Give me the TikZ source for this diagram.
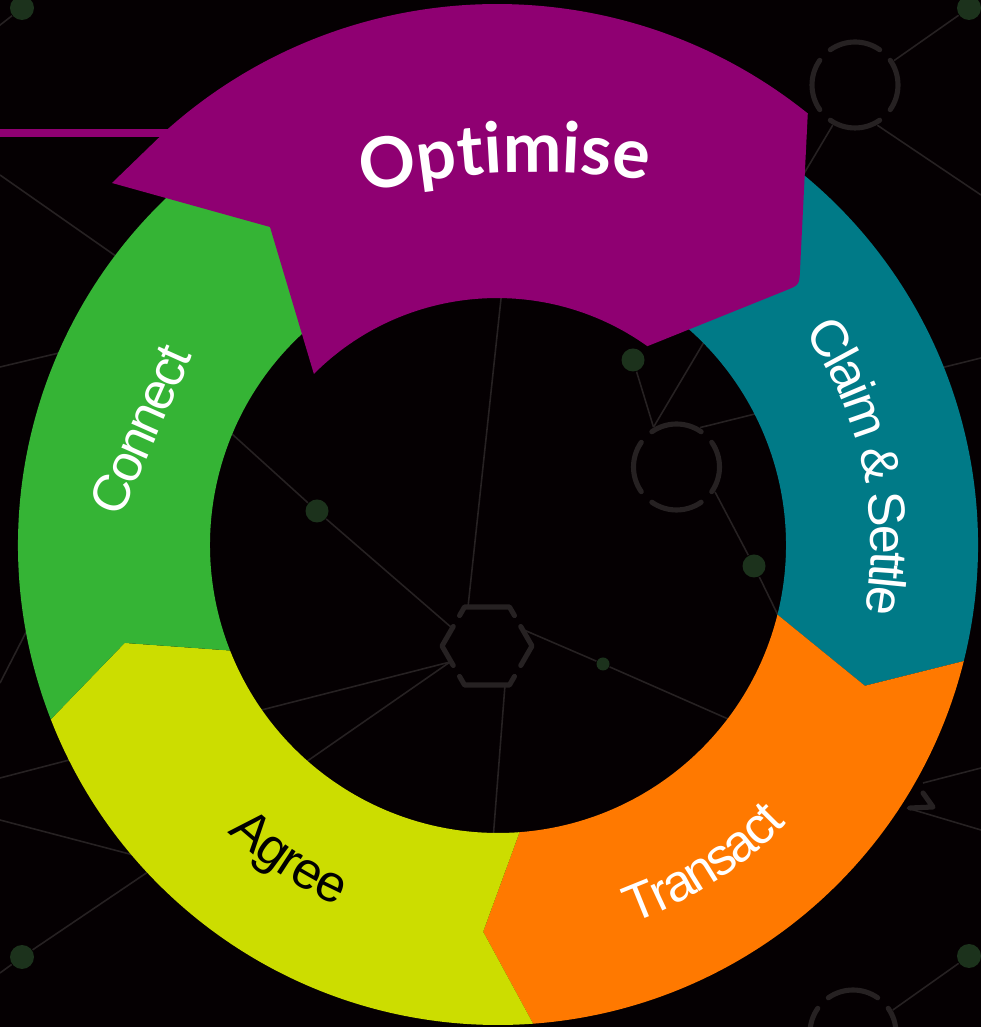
\documentclass[tikz,border=0pt]{standalone}
\usepackage{fontspec}
\usetikzlibrary{decorations.text,calc}
\newfontfamily\labfont{Liberation Sans}
\newfontfamily\labfontT{Liberation Sans}[LetterSpace=-5]
\newfontfamily\optfont{Lato}
\newcommand\optfmt{\optfont\bfseries\fontsize{19.9pt}{21pt}\selectfont}
\newcommand\labfmt{\labfont\fontsize{14.8pt}{16pt}\selectfont}
\newcommand\labfmtT{\labfontT\fontsize{14.8pt}{16pt}\selectfont}
\definecolor{bg}{RGB}{5,0,2}
\definecolor{lin}{RGB}{38,33,34}
\definecolor{dotc}{RGB}{28,50,28}
\definecolor{magc}{RGB}{143,0,114}
\definecolor{tealc}{RGB}{0,122,135}
\definecolor{orc}{RGB}{255,121,0}
\definecolor{ylc}{RGB}{204,221,0}
\definecolor{grc}{RGB}{53,180,53}
\begin{document}
\begin{tikzpicture}[x=0.1mm,y=0.1mm,
  bgline/.style={draw=lin,line width=0.45pt},
  iconline/.style={draw=lin,line width=1.45pt,line cap=round,line join=round},
  dotn/.style={circle,fill=dotc,inner sep=0pt,minimum size=#1}]
\useasboundingbox (0,0) rectangle (981,1027);
\fill[bg] (0,0) rectangle (981,1027);
\begin{scope}
\clip (0,0) rectangle (981,1027);
% ---- background network: dots
\node[dotn=2.4mm] (d1) at (22,1019) {};
\node[dotn=2.4mm] (d2) at (969,1019) {};
\node[dotn=2.3mm] (d3) at (633,667) {};
\node[dotn=2.3mm] (d4) at (754,461) {};
\node[dotn=2.3mm] (d5) at (317,516) {};
\node[dotn=1.3mm] (d6) at (603,363) {};
\node[dotn=2.4mm] (d7) at (22,70) {};
\node[dotn=2.4mm] (d8) at (969,71) {};
% icon centres
\coordinate (c1) at (855,942);
\coordinate (c2) at (676.5,560);
\coordinate (c3) at (853,-6);
\coordinate (H) at (487,381);
\coordinate (V0) at (532,381);
\coordinate (V1) at (509.5,420);
\coordinate (V2) at (464.5,420);
\coordinate (V3) at (442,381);
\coordinate (V4) at (464.5,342);
\coordinate (V5) at (509.5,342);
% free line ends
\coordinate (e1) at (-5,998);
\coordinate (e2a) at (0,852);   \coordinate (e2b) at (160,740);
\coordinate (e3a) at (0,660);   \coordinate (e3b) at (80,679);
\coordinate (e4a) at (0,344);   \coordinate (e4b) at (40,422);
\coordinate (e5a) at (0,249);   \coordinate (e5b) at (100,275);
\coordinate (e6a) at (0,207);   \coordinate (e6b) at (160,165);
\coordinate (e7a) at (0,54);    \coordinate (e7b) at (170,170);
\coordinate (e9) at (981,832);
\coordinate (e12) at (981,669);
\coordinate (e13) at (790,387);
\coordinate (e14) at (503,747);
\coordinate (e15) at (493,187);
\coordinate (e16) at (200,622);
\coordinate (e17) at (230,309);
\coordinate (e18) at (280,247);
\coordinate (e19) at (760,294);
\coordinate (e20a) at (981,259); \coordinate (e20b) at (923,244);
\coordinate (e21a) at (981,197); \coordinate (e21b) at (907,219);
% lines
\draw[bgline] (d1) -- (e1);
\draw[bgline] (e2a) -- (e2b);
\draw[bgline] (e3a) -- (e3b);
\draw[bgline] (e4a) -- (e4b);
\draw[bgline] (e5a) -- (e5b);
\draw[bgline] (e6a) -- (e6b);
\draw[bgline] (e7a) -- (d7) -- (e7b);
\draw[bgline] (d2) -- ($(c1)+(32:46)$);
\draw[bgline] ($(c1)+(-61:46)$) -- (e9);
\draw[bgline] ($(c1)+(-119:46)$) -- ($(c2)+(120:46)$);
\draw[bgline] (d3) -- ($(c2)+(120:46)$);
\draw[bgline] ($(c2)+(59:46)$) -- (e12);
\draw[bgline] ($(c2)+(-33:46)$) -- (d4) -- (e13);
\draw[bgline] (468,420) -- (e14);
\draw[bgline] (505,342) -- (e15);
\draw[bgline] (452,399) -- (d5) -- (e16);
\draw[bgline] (450,365) -- (e17);
\draw[bgline] (450,365) -- (e18);
\draw[bgline] (524,397) -- (d6) -- (e19);
\draw[bgline] (e20a) -- (e20b);
\draw[bgline] (e21a) -- (e21b);
\draw[bgline] (d8) -- ($(c3)+(30:46)$);
% dashed circles
\foreach \c in {c1,c2,c3}{
  \foreach \a in {0,90,180,270}{
    \draw[iconline] (\c) ++(\a+55:43) arc[start angle=\a+55,end angle=\a+125,radius=43];
  }
}
% hexagon
\draw[iconline] ($(V3)!0.78!(V2)$) -- (V2) -- (V1) -- ($(V1)!0.22!(V0)$);
\draw[iconline] ($(V2)!0.5!(V3)$) -- (V3) -- ($(V3)!0.5!(V4)$);
\draw[iconline] ($(V3)!0.78!(V4)$) -- (V4) -- (V5) -- ($(V5)!0.22!(V0)$);
\draw[iconline] ($(V1)!0.5!(V0)$) -- (V0) -- ($(V0)!0.5!(V5)$);
\draw[iconline] (923,234) -- (933,220) -- (910,219);
% ---- ring segments
\begin{scope}[shift={(498,482)}]
\fill[tealc] (62:288) -- (62:480) arc[start angle=62,end angle=-14,radius=480]
  -- (-21:393) -- (-14:288) arc[start angle=-14,end angle=62,radius=288] -- cycle;
\fill[orc] (-14:288) -- (-21:393) -- (-14:480) arc[start angle=-14,end angle=-85.8,radius=480]
  -- (-92.2:387) -- (-85.7:288) arc[start angle=-85.7,end angle=-14,radius=288] -- cycle;
\fill[ylc] (-85.7:288) -- (-92.2:387) -- (-85.8:480) arc[start angle=-85.8,end angle=-158.7,radius=480]
  -- (-165.3:386) -- (-158.5:288) arc[start angle=-158.5,end angle=-85.7,radius=288] -- cycle;
\fill[grc] (-158.5:288) -- (-165.3:386) -- (-158.7:480) arc[start angle=-158.7,end angle=-240,radius=480]
  -- (-240:288) arc[start angle=-240,end angle=-158.5,radius=288] -- cycle;
\end{scope}
% ---- magenta Optimise piece
\fill[magc] (0,890) rectangle (172,898);
\fill[magc] (497,527) ++(131.6:496) arc[start angle=131.6,end angle=51.2,radius=496]
  -- (800.0,757) .. controls (799.3,742) .. (785.4,736.4)
  -- (647.4,680.8) arc[start angle=54.5,end angle=135,radius=259]
  -- (270,800) -- (112,844) -- cycle;
% ---- labels
\path[decorate,decoration={text along path,text align=center,text color=white,
  text={|\optfmt|Optimise}}]
  (537,125) ++(117.5:730) arc[start angle=117.5,end angle=67.5,radius=730];
\path[decorate,decoration={text along path,text align=center,text color=white,
  text={|\labfmt\kern-0.75pt|Claim {\&} Settle}}]
  (498,482) ++(57:373) arc[start angle=57,end angle=-33,radius=373];
\path[decorate,decoration={text along path,text align=center,text color=white,
  text={|\labfmt\kern-0.7pt|Transact}}]
  (498,482) ++(-87:401) arc[start angle=-87,end angle=-27,radius=401];
\path[decorate,decoration={text along path,text align=center,text color=black,
  text={|\labfmt\kern-0.4pt|Agree}}]
  (498,482) ++(-153.5:395) arc[start angle=-153.5,end angle=-93.5,radius=395];
\node[rotate=66,anchor=base,text=white,inner sep=0pt,font=\labfmtT] (connect) at (156.5,590) {Connect};
\end{scope}
\end{tikzpicture}
\end{document}
